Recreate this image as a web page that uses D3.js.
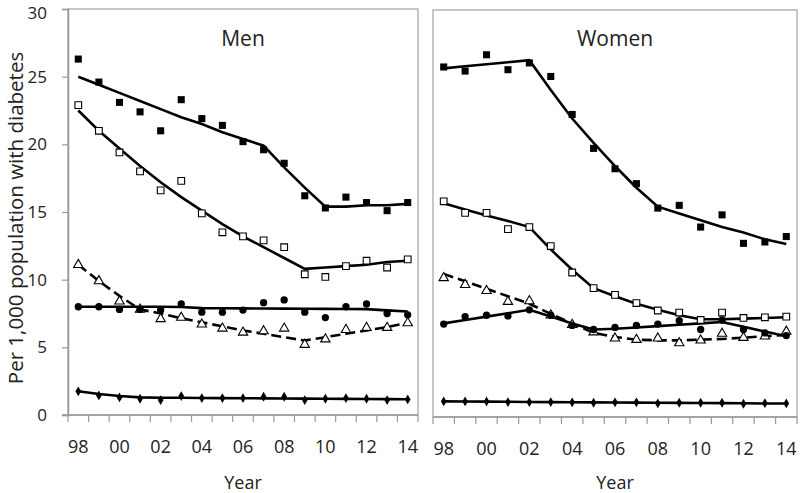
<!DOCTYPE html>
<html>
<head>
<meta charset="utf-8">
<script src="https://cdn.jsdelivr.net/npm/d3@7"></script>
<style>
  body { margin: 0; background: #fff; }
  text { font-family: "Open Sans", sans-serif; fill: #222; }
</style>
</head>
<body>
<div id="chart"></div>
<script>
const widthValue = 800;
const heightValue = 493;

// categories and tick labels
const years = [1998, 1999, 2000, 2001, 2002, 2003, 2004, 2005, 2006, 2007, 2008, 2009, 2010, 2011, 2012, 2013, 2014];
const yearLabels = [1998, 2000, 2002, 2004, 2006, 2008, 2010, 2012, 2014];
const yTicks = [0, 5, 10, 15, 20, 25, 30];

// Men: observed rates and fitted trends
const menFilledSq = [26.3, 24.6, 23.1, 22.4, 21.0, 23.3, 21.9, 21.4, 20.2, 19.6, 18.6, 16.2, 15.3, 16.1, 15.7, 15.1, 15.7];
const menFilledSqFit = [25.0, 24.4, 23.8, 23.2, 22.6, 22.0, 21.5, 20.9, 20.4, 19.9, 18.3, 16.8, 15.4, 15.4, 15.5, 15.5, 15.6];
const menOpenSq = [22.9, 21.0, 19.4, 18.0, 16.6, 17.3, 14.9, 13.5, 13.2, 12.9, 12.4, 10.4, 10.2, 11.0, 11.4, 10.9, 11.5];
const menOpenSqFit = [22.5, 21.0, 19.7, 18.4, 17.2, 16.1, 15.1, 14.1, 13.2, 12.4, 11.6, 10.8, 10.9, 11.0, 11.1, 11.3, 11.4];
const menCircle = [8.0, 8.0, 7.8, 7.8, 7.75, 8.2, 7.6, 7.6, 7.75, 8.3, 8.5, 7.6, 7.2, 8.0, 8.2, 7.5, 7.4];
const menCircleFit = [8.0, 8.0, 8.0, 8.0, 8.0, 7.98, 7.9, 7.89, 7.88, 7.87, 7.86, 7.85, 7.84, 7.83, 7.82, 7.73, 7.65];
const menTriangle = [11.1, 9.9, 8.4, 7.8, 7.1, 7.2, 6.7, 6.4, 6.1, 6.2, 6.4, 5.2, 5.6, 6.3, 6.45, 6.45, 6.8];
const menTriangleFit = [11.1, 9.9, 8.8, 7.8, 7.5, 7.15, 6.85, 6.55, 6.25, 6.0, 5.75, 5.5, 5.75, 6.0, 6.25, 6.5, 6.8];
const menDiamond = [1.75, 1.45, 1.3, 1.2, 1.1, 1.4, 1.25, 1.25, 1.25, 1.35, 1.35, 1.1, 1.2, 1.25, 1.2, 1.1, 1.15];
const menDiamondFit = [1.75, 1.55, 1.4, 1.3, 1.28, 1.27, 1.26, 1.25, 1.24, 1.23, 1.22, 1.21, 1.2, 1.19, 1.18, 1.17, 1.16];

// Women: observed rates and fitted trends
const womenFilledSq = [25.8, 25.5, 26.7, 25.6, 26.1, 25.1, 22.3, 19.8, 18.3, 17.2, 15.4, 15.6, 14.0, 14.9, 12.8, 12.9, 13.3];
const womenFilledSqFit = [25.7, 25.85, 26.0, 26.15, 26.3, 24.1, 22.0, 20.2, 18.5, 16.9, 15.5, 15.0, 14.5, 14.0, 13.6, 13.1, 12.75];
const womenOpenSq = [15.9, 15.05, 15.05, 13.85, 14.0, 12.6, 10.65, 9.5, 9.0, 8.4, 7.85, 7.7, 7.15, 7.7, 7.3, 7.35, 7.4];
const womenOpenSqFit = [15.75, 15.3, 14.85, 14.45, 14.0, 12.35, 10.85, 9.5, 8.9, 8.35, 7.9, 7.5, 7.2, 7.2, 7.25, 7.3, 7.35];
const womenCircle = [6.85, 7.4, 7.5, 7.45, 7.9, 7.5, 6.75, 6.45, 6.6, 6.75, 6.85, 7.1, 6.45, 7.15, 6.45, 6.2, 6.0];
const womenCircleFit = [6.9, 7.15, 7.4, 7.65, 7.9, 7.4, 6.9, 6.45, 6.5, 6.6, 6.7, 6.8, 6.9, 7.0, 6.65, 6.3, 5.95];
const womenTriangle = [10.25, 9.75, 9.3, 8.5, 8.55, 7.5, 6.8, 6.25, 5.8, 5.7, 5.8, 5.45, 5.65, 6.15, 5.85, 5.95, 6.3];
const womenTriangleFit = [10.55, 10.0, 9.45, 8.9, 8.35, 7.6, 6.9, 6.2, 5.9, 5.7, 5.65, 5.65, 5.7, 5.75, 5.85, 5.95, 6.05];
const womenDiamond = [1.15, 1.15, 1.15, 1.1, 1.1, 1.1, 1.08, 1.05, 1.08, 1.08, 1.0, 1.05, 1.05, 1.05, 0.98, 1.02, 1.0];
const womenDiamondFit = [1.15, 1.14, 1.13, 1.12, 1.11, 1.1, 1.09, 1.08, 1.07, 1.06, 1.05, 1.04, 1.03, 1.02, 1.01, 1.0, 0.99];

const svg = d3.select("#chart")
  .append("svg")
  .attr("width", widthValue)
  .attr("height", heightValue);

// marker shapes
const markers = {
  filledSq: {type: d3.symbolSquare, size: 50, fill: "#000", stroke: "none"},
  openSq:   {type: d3.symbolSquare, size: 45, fill: "#fff", stroke: "#000"},
  circle:   {type: d3.symbolCircle, size: 42, fill: "#000", stroke: "none"},
  triangle: {type: d3.symbolTriangle, size: 38, fill: "#fff", stroke: "#000"},
  diamond:  {type: d3.symbolDiamond, size: 28, fill: "#000", stroke: "none"}
}

const panels = [
  {title: "Men", left: 68, right: 418, top: 9, bottom: 415, yAxis: true,
   series: [
     {pts: menTriangle, fit: menTriangleFit, marker: "triangle", dash: "10,5"},
     {pts: menDiamond, fit: menDiamondFit, marker: "diamond"},
     {pts: menCircle, fit: menCircleFit, marker: "circle"},
     {pts: menOpenSq, fit: menOpenSqFit, marker: "openSq"},
     {pts: menFilledSq, fit: menFilledSqFit, marker: "filledSq"}
   ]},
  {title: "Women", left: 433, right: 797, top: 10, bottom: 417, yAxis: false,
   series: [
     {pts: womenTriangle, fit: womenTriangleFit, marker: "triangle", dash: "10,5"},
     {pts: womenDiamond, fit: womenDiamondFit, marker: "diamond"},
     {pts: womenCircle, fit: womenCircleFit, marker: "circle"},
     {pts: womenOpenSq, fit: womenOpenSqFit, marker: "openSq"},
     {pts: womenFilledSq, fit: womenFilledSqFit, marker: "filledSq"}
   ]}
]

panels.forEach(function(p) {
  const g = svg.append("g");

  var x = d3.scaleBand()
    .domain(years)
    .range([p.left, p.right])
    .padding(0);
  var y = d3.scaleLinear()
    .domain([0, 30])
    .range([p.bottom, p.top]);
  const cx = function(yr) { return x(yr) + x.bandwidth() / 2 }

  // plot frame
  g.append("rect")
    .attr("x", p.left).attr("y", p.top)
    .attr("width", p.right - p.left).attr("height", p.bottom - p.top)
    .attr("fill", "none")
    .attr("stroke", "#b4b4b4")
    .attr("stroke-width", 1.5);

  // x axis: ticks on category boundaries, labels on centres
  const xAxis = g.append("g").attr("transform", "translate(0," + p.bottom + ")");
  xAxis.append("line")
    .attr("x1", p.yAxis ? p.left - 6 : p.left).attr("x2", p.right)
    .attr("stroke", "#999").attr("stroke-width", 1.5);
  xAxis.selectAll(".bound")
    .data(years.concat(["end"]))
    .join("line")
    .attr("x1", function(d) { return d === "end" ? p.right : x(d) })
    .attr("x2", function(d) { return d === "end" ? p.right : x(d) })
    .attr("y1", 0).attr("y2", 7)
    .attr("stroke", "#999").attr("stroke-width", 1.2);
  xAxis.selectAll(".lab")
    .data(yearLabels)
    .join("text")
    .attr("x", cx)
    .attr("y", 38)
    .attr("text-anchor", "middle")
    .style("font-size", "18px")
    .text(function(d) { return String(d).slice(2) });

  // y axis
  if (p.yAxis) {
    const yAxis = g.append("g")
      .attr("transform", "translate(" + p.left + ",0)")
      .call(d3.axisLeft(y).tickValues(yTicks).tickSize(6).tickPadding(15));
    yAxis.select(".domain").attr("stroke", "#999").attr("stroke-width", 1.5);
    yAxis.selectAll(".tick line").attr("stroke", "#999").attr("stroke-width", 1.2);
    yAxis.selectAll(".tick text")
      .style("font-size", "17px")
      .style("font-family", "'Open Sans', sans-serif")
      .attr("fill", "#222")
      // keep the top label inside the page
      .attr("dy", function(d) { return d === 30 ? "0.56em" : "0.32em" });
  }

  // panel title
  g.append("text")
    .attr("x", (p.left + p.right) / 2)
    .attr("y", 46)
    .attr("text-anchor", "middle")
    .style("font-size", "21px")
    .text(p.title);

  // axis title
  g.append("text")
    .attr("x", (p.left + p.right) / 2)
    .attr("y", 489)
    .attr("text-anchor", "middle")
    .style("font-size", "18px")
    .text("Year");

  // trend lines
  p.series.forEach(function(s) {
    g.append("path")
      .datum(s.fit)
      .attr("fill", "none")
      .attr("stroke", "#000")
      .attr("stroke-width", 2.6)
      .attr("stroke-dasharray", s.dash || null)
      .attr("d", d3.line()
        .x(function(d, i) { return cx(years[i]) })
        .y(function(d) { return y(d) }));
  });

  // observed points
  p.series.forEach(function(s) {
    const m = markers[s.marker];
    g.append("g").selectAll("path")
      .data(s.pts)
      .join("path")
      .attr("transform", function(d, i) { return "translate(" + cx(years[i]) + "," + y(d) + ")" })
      .attr("d", d3.symbol().type(m.type).size(m.size))
      .attr("fill", m.fill)
      .attr("stroke", m.stroke)
      .attr("stroke-width", 1.1);
  });
});

// shared y title
svg.append("text")
  .attr("transform", "translate(23,218) rotate(-90)")
  .attr("text-anchor", "middle")
  .style("font-size", "20.5px")
  .text("Per 1,000 population with diabetes");
</script>
</body>
</html>
